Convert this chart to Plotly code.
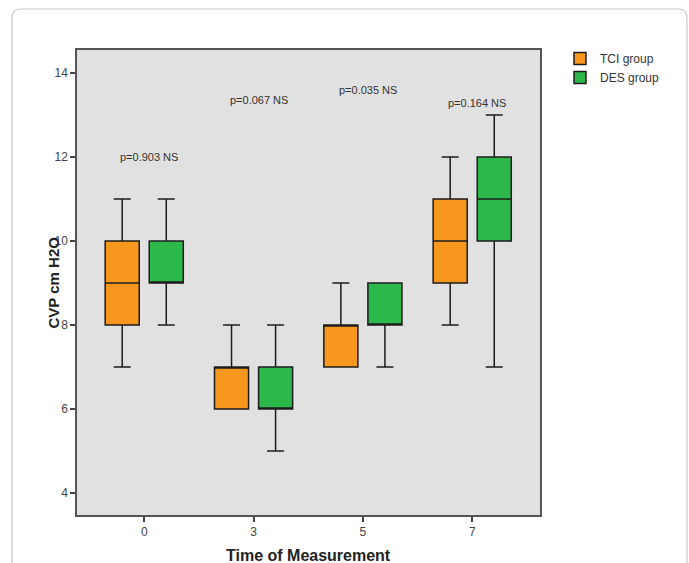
import plotly.graph_objects as go

# ---- data ----
categories = ["0", "3", "5", "7"]

tci_min = [7, 6, 7, 8]
tci_q1 = [8, 6, 7, 9]
tci_med = [9, 7, 8, 10]
tci_q3 = [10, 7, 8, 11]
tci_max = [11, 8, 9, 12]

des_min = [8, 5, 7, 7]
des_q1 = [9, 6, 8, 10]
des_med = [9, 6, 8, 11]
des_q3 = [10, 7, 9, 12]
des_max = [11, 8, 9, 13]

p_labels = ["p=0.903 NS", "p=0.067 NS", "p=0.035 NS", "p=0.164 NS"]
p_heights = [12.0, 13.36, 13.59, 13.29]

y_ticks = [4, 6, 8, 10, 12, 14]

# ---- figure geometry ----
W, H = 689, 563
L, R, T, B = 77, 540, 50, 515

ORANGE = "#F7971E"
GREEN = "#2DB84B"
EDGE = "#1c1c1c"

fig = go.Figure()
fig.add_trace(go.Box(
    x=categories, q1=tci_q1, median=tci_med, q3=tci_q3,
    lowerfence=tci_min, upperfence=tci_max,
    name="TCI group", fillcolor=ORANGE,
    line=dict(color=EDGE, width=1.5), whiskerwidth=0.5,
    boxpoints=False, hoverinfo="skip",
))
fig.add_trace(go.Box(
    x=categories, q1=des_q1, median=des_med, q3=des_q3,
    lowerfence=des_min, upperfence=des_max,
    name="DES group", fillcolor=GREEN,
    line=dict(color=EDGE, width=1.5), whiskerwidth=0.5,
    boxpoints=False, hoverinfo="skip",
))

annotations = []
for i, (lab, yv) in enumerate(zip(p_labels, p_heights)):
    annotations.append(dict(
        x=i, y=yv, xref="x", yref="y", text=lab, showarrow=False,
        xshift=5, font=dict(family="Liberation Sans, Arial", size=11, color="#333333"),
    ))

annotations.append(dict(
    x=0, y=0.5, xref="paper", yref="paper", text="<b>CVP cm H2O</b>",
    textangle=-90, showarrow=False, xanchor="center", yanchor="middle", xshift=-24,
    font=dict(family="Liberation Sans, Arial", size=15, color="#222222"),
))
annotations.append(dict(
    x=0.5, y=0, xref="paper", yref="paper", text="<b>Time of Measurement</b>",
    showarrow=False, xanchor="center", yanchor="middle", yshift=-40,
    font=dict(family="Liberation Sans, Arial", size=16, color="#222222"),
))

pw, ph = R - L, B - T
def px(x):
    return (x - L) / pw
def py(y):
    return (B - y) / ph

x0, x1, yt, yb, r = 12, 687, 9, 580, 9
path = (f"M {px(x0)},{py(yb)} L {px(x0)},{py(yt + r)} "
        f"Q {px(x0)},{py(yt)} {px(x0 + r)},{py(yt)} "
        f"L {px(x1 - r)},{py(yt)} Q {px(x1)},{py(yt)} {px(x1)},{py(yt + r)} "
        f"L {px(x1)},{py(yb)}")

fig.update_layout(
    width=W, height=H,
    margin=dict(l=L, r=W - R, t=T, b=H - B, pad=0),
    paper_bgcolor="white", plot_bgcolor="#E1E1E1",
    boxmode="group", boxgap=0.194, boxgroupgap=0.227,
    font=dict(family="Liberation Sans, Arial", size=12, color="#444444"),
    showlegend=True,
    legend=dict(
        x=px(560), y=py(44), xanchor="left", yanchor="top",
        font=dict(size=12, color="#333333"), bgcolor="rgba(0,0,0,0)",
        tracegroupgap=0, itemwidth=30,
    ),
    annotations=annotations,
    shapes=[dict(type="path", xref="paper", yref="paper", path=path,
                 line=dict(color="#C8C8C8", width=1.2), layer="below")],
)
fig.update_xaxes(
    type="category", range=[-0.615, 3.62], showgrid=False, zeroline=False,
    showline=True, mirror=True, linecolor="#555555", linewidth=1.5,
    ticks="outside", ticklen=5, tickwidth=1.5, tickcolor="#444444",
    tickfont=dict(size=12, color="#444444"), fixedrange=True,
)
fig.update_yaxes(
    range=[3.476, 14.55], tickvals=y_ticks, showgrid=False, zeroline=False,
    showline=True, mirror=True, linecolor="#555555", linewidth=1.5,
    ticks="outside", ticklen=5, tickwidth=1.5, tickcolor="#444444",
    tickfont=dict(size=12, color="#444444"), fixedrange=True,
)

fig.write_html("out.html")
